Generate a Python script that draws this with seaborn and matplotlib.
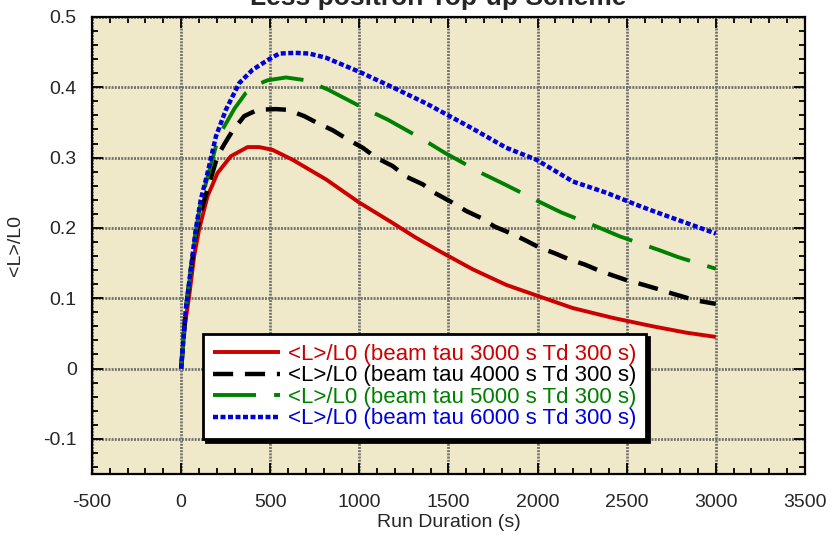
import matplotlib
matplotlib.use("Agg")
import matplotlib.pyplot as plt
from matplotlib.ticker import MultipleLocator, FuncFormatter
import seaborn as sns
import pandas as pd

# Run duration (s) and average luminosity ratio for each beam lifetime
t_tau3000 = [0, 17, 45, 73, 101, 148, 204, 279, 373, 438, 513, 625, 813, 1000,
             1187, 1318, 1449, 1637, 1824, 1993, 2198, 2423, 2648, 2835, 3000]
l_tau3000 = [0, 0.055, 0.103, 0.160, 0.198, 0.245, 0.278, 0.302, 0.315, 0.315,
             0.311, 0.297, 0.269, 0.236, 0.207, 0.186, 0.167, 0.141, 0.119,
             0.104, 0.086, 0.072, 0.060, 0.051, 0.045]

t_tau4000 = [0, 26, 54, 82, 120, 160, 204, 242, 288, 354, 429, 532, 597, 691,
             766, 850, 934, 1019, 1094, 1187, 1262, 1356, 1421, 1515, 1600, 1684,
             1758, 1852, 1927, 2011, 2096, 2180, 2264, 2348, 2427, 2507, 2582,
             2676, 2751, 2845, 2910, 3000]
l_tau4000 = [0, 0.083, 0.139, 0.190, 0.231, 0.265, 0.302, 0.319, 0.338, 0.359,
             0.368, 0.369, 0.368, 0.359, 0.349, 0.339, 0.326, 0.314, 0.300,
             0.288, 0.273, 0.262, 0.250, 0.237, 0.224, 0.214, 0.202, 0.192,
             0.183, 0.172, 0.164, 0.155, 0.148, 0.139, 0.132, 0.125, 0.120,
             0.113, 0.107, 0.100, 0.096, 0.092]

t_tau5000 = [0, 26, 54, 82, 110, 148, 195, 232, 300, 363, 420, 485, 588, 700,
             822, 1019, 1159, 1356, 1478, 1693, 1815, 2011, 2133, 2340, 2461,
             2676, 2794, 3000]
l_tau5000 = [0, 0.083, 0.140, 0.195, 0.236, 0.272, 0.316, 0.340, 0.370, 0.392,
             0.403, 0.410, 0.414, 0.410, 0.397, 0.371, 0.354, 0.326, 0.307,
             0.277, 0.262, 0.237, 0.222, 0.201, 0.188, 0.169, 0.158, 0.142]

t_tau6000 = [0, 26, 54, 82, 110, 148, 195, 251, 326, 401, 494, 551, 640, 719,
             813, 1000, 1187, 1375, 1543, 1637, 1824, 1993, 2198, 2386, 2554,
             2648, 2835, 3000]
l_tau6000 = [0, 0.084, 0.141, 0.198, 0.240, 0.278, 0.330, 0.368, 0.406, 0.425,
             0.440, 0.448, 0.449, 0.448, 0.442, 0.422, 0.400, 0.377, 0.354,
             0.341, 0.314, 0.297, 0.266, 0.250, 0.233, 0.224, 0.207, 0.192]

labels = ["<L>/L0 (beam tau 3000 s Td 300 s)",
          "<L>/L0 (beam tau 4000 s Td 300 s)",
          "<L>/L0 (beam tau 5000 s Td 300 s)",
          "<L>/L0 (beam tau 6000 s Td 300 s)"]

sns.set_theme(style="ticks")
plt.rcParams["font.family"] = ["Liberation Sans", "DejaVu Sans"]
plt.rcParams["lines.scale_dashes"] = False

fig = plt.figure(figsize=(8.32, 5.41), dpi=100)
ax = fig.add_axes([0.1106, 0.1238, 0.8569, 0.8448])
ax.set_facecolor("#f0e9c9")

series = [
    (t_tau3000, l_tau3000, "#cc0000", "-", 2.8),
    (t_tau4000, l_tau4000, "#000000", (0, (14.5, 8.5)), 3.2),
    (t_tau5000, l_tau5000, "#008000", (0, (31, 13)), 2.8),
    (t_tau6000, l_tau6000, "#0000dd", (0, (3.6, 1.8)), 3.2),
]

for (t, l, color, ls, lw), lab in zip(series, labels):
    df = pd.DataFrame({"Run Duration (s)": t, "<L>/L0": l})
    sns.lineplot(data=df, x="Run Duration (s)", y="<L>/L0", ax=ax, color=color,
                 linestyle=ls, linewidth=lw, label=lab, solid_capstyle="butt",
                 dash_capstyle="butt", zorder=3)

ax.set_xlim(-500, 3500)
ax.set_ylim(-0.15, 0.5)
ax.xaxis.set_major_locator(MultipleLocator(500))
ax.xaxis.set_minor_locator(MultipleLocator(100))
ax.yaxis.set_major_locator(MultipleLocator(0.1))
ax.yaxis.set_minor_locator(MultipleLocator(0.02))


def fmt(v, pos):
    s = f"{v:.1f}" if abs(v) > 1e-9 else "0"
    if s.endswith(".0"):
        s = s[:-2]
    return s


ax.yaxis.set_major_formatter(FuncFormatter(fmt))
ax.xaxis.set_major_formatter(FuncFormatter(lambda v, p: f"{int(round(v))}"))

ax.tick_params(which="both", direction="in", top=True, right=True,
               width=1.3, color="black", labelsize=14)
ax.tick_params(which="major", length=8)
ax.tick_params(axis="x", which="major", pad=14.5)
ax.tick_params(axis="y", which="major", pad=11)
ax.tick_params(which="minor", length=4.5)
for sp in ax.spines.values():
    sp.set_linewidth(1.6)
    sp.set_color("black")
    sp.set_zorder(5)

ax.grid(True, which="major", color="#707070", linestyle=(0, (1.4, 0.9)),
        linewidth=2.0)
ax.set_axisbelow(True)

ax.set_xlabel("Run Duration (s)", fontsize=14, labelpad=2)
ax.set_ylabel("<L>/L0", fontsize=14, labelpad=14)

fig.text(0.5265, 0.991, "Less positron Top-up Scheme", ha="center",
         va="baseline", fontsize=19, fontweight="bold")

leg = ax.legend(loc="lower left", bbox_to_anchor=(0.156, 0.076),
                borderaxespad=0, fontsize=16, frameon=True, fancybox=False,
                shadow={"color": "black", "alpha": 1.0}, framealpha=1,
                edgecolor="black", handlelength=3.0, handletextpad=0.35,
                labelspacing=0.02, borderpad=0.45)
leg.get_frame().set_linewidth(2.0)
for txt, (_, _, color, _, _) in zip(leg.get_texts(), series):
    txt.set_color(color)
leg.set_zorder(10)

fig.savefig("out.png", dpi=100)
